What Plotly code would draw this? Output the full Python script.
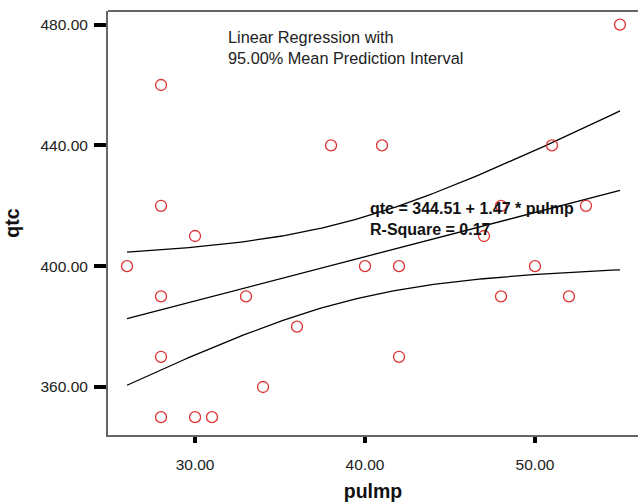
import numpy as np
import plotly.graph_objects as go

pulmp = [26, 28, 28, 28, 28, 28, 30, 30, 31, 33, 34, 36, 38, 40, 41, 42, 42,
         47, 48, 48, 50, 51, 52, 53, 55]
qtc = [400, 460, 420, 390, 370, 350, 410, 350, 350, 390, 360, 380, 440, 400,
       440, 400, 370, 410, 420, 390, 400, 440, 390, 420, 480]
x_ticks = [30, 40, 50]
y_ticks = [360, 400, 440, 480]
T_975 = 2.0687  # t quantile, df = n - 2 = 23

x = np.array(pulmp, float)
y = np.array(qtc, float)
n = len(x)
b1, b0 = np.polyfit(x, y, 1)
resid = y - (b0 + b1 * x)
s = np.sqrt((resid ** 2).sum() / (n - 2))
sxx = ((x - x.mean()) ** 2).sum()
r2 = 1 - (resid ** 2).sum() / ((y - y.mean()) ** 2).sum()

xs = np.linspace(x.min(), x.max(), 120)
fit = b0 + b1 * xs
half = T_975 * s * np.sqrt(1 / n + (xs - x.mean()) ** 2 / sxx)

fig = go.Figure()
for yy in (fit + half, fit, fit - half):
    fig.add_trace(go.Scatter(x=xs, y=yy, mode="lines",
                             line=dict(color="black", width=1.3),
                             hoverinfo="skip", showlegend=False))
fig.add_trace(go.Scatter(x=pulmp, y=qtc, mode="markers",
                         marker=dict(symbol="circle-open", size=11,
                                     color="#dd3333", line=dict(width=1.3)),
                         showlegend=False))

font = "Liberation Sans, Arial, sans-serif"
fig.add_annotation(xref="x", yref="y", x=31.85, y=479.6, xanchor="left", yanchor="top",
                   text="Linear Regression with<br>95.00% Mean Prediction Interval",
                   align="left", showarrow=False,
                   font=dict(family=font, size=16.3, color="#222"))
fig.add_annotation(xref="x", yref="y", x=40.15, y=422.5, xanchor="left", yanchor="top",
                   text=f"<b>qtc = {b0:.2f} + {b1:.2f} * pulmp</b><br><b>R-Square = {r2:.2f}</b>",
                   align="left", showarrow=False,
                   font=dict(family=font, size=16, color="#111"))

fig.add_shape(type="line", xref="paper", yref="paper", x0=0, x1=1, y0=1, y1=1,
              line=dict(color="#666", width=2))

fig.update_layout(
    width=638, height=504,
    margin=dict(l=108, r=0, t=11, b=69),
    plot_bgcolor="white", paper_bgcolor="white",
    font=dict(family=font, size=15.5, color="#222"),
    showlegend=False,
    xaxis=dict(range=[24.88, 56.06], tickvals=x_ticks,
               ticktext=[f"{v:.2f}" for v in x_ticks],
               showgrid=False, zeroline=False, showline=True,
               linecolor="#666", linewidth=2,
               ticks="outside", ticklen=6, tickwidth=3.5, tickcolor="black",
               ticklabelstandoff=8,
               title=dict(text="<b>pulmp</b>", font=dict(size=19.5, color="#111"),
                          standoff=13)),
    yaxis=dict(range=[344.1, 484.5], tickvals=y_ticks,
               ticktext=[f"{v:.2f}" for v in y_ticks],
               showgrid=False, zeroline=False, showline=True,
               linecolor="#666", linewidth=2,
               ticks="outside", ticklen=12, tickwidth=3.5, tickcolor="black",
               ticklabelstandoff=3,
               title=dict(text="<b>qtc</b>", font=dict(size=19.5, color="#111"),
                          standoff=16)),
)

fig.write_html("out.html")
